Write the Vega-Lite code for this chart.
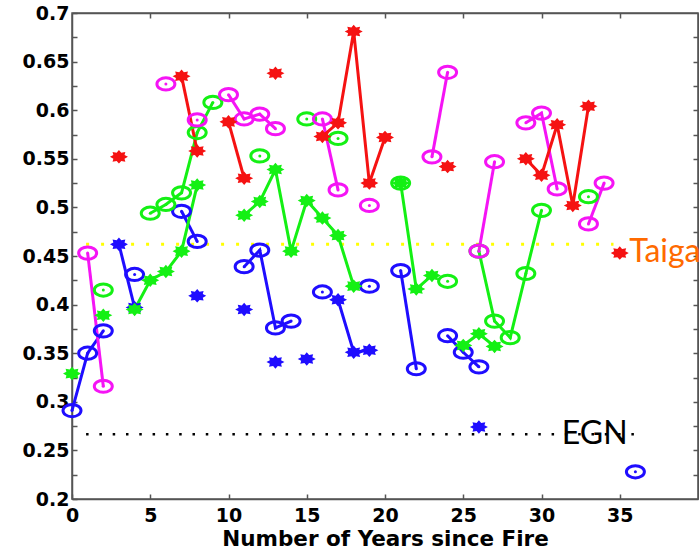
{
  "$schema": "https://vega.github.io/schema/vega-lite/v6.json",
  "width": 626,
  "height": 486,
  "autosize": {"type": "none"},
  "padding": {"left": 72, "top": 13, "right": 1, "bottom": 50},
  "background": "white",
  "config": {
    "view": {"stroke": "#555", "strokeWidth": 1.5},
    "axis": {
      "grid": false,
      "domainColor": "#555",
      "domainWidth": 1.5,
      "tickColor": "#555",
      "tickWidth": 1.5,
      "tickSize": -5,
      "labelFont": "DejaVu Sans",
      "labelFontWeight": "bold",
      "labelFontSize": 19,
      "labelColor": "#000",
      "labelOverlap": false,
      "labelFlush": false,
      "titleFont": "DejaVu Sans",
      "titleFontWeight": "bold",
      "titleFontSize": 21.5,
      "titleColor": "#000"
    }
  },
  "datasets": {
    "pts": [
      {"c": "b", "m": "o", "x": 0, "y": 0.291, "s": 1},
      {"c": "b", "m": "o", "x": 1, "y": 0.350, "s": 1},
      {"c": "b", "m": "o", "x": 2, "y": 0.373, "s": 1},
      {"c": "b", "m": "o", "x": 4, "y": 0.431, "s": 2},
      {"c": "b", "m": "o", "x": 7, "y": 0.496, "s": 3},
      {"c": "b", "m": "o", "x": 8, "y": 0.465, "s": 3},
      {"c": "b", "m": "o", "x": 11, "y": 0.439, "s": 4},
      {"c": "b", "m": "o", "x": 12, "y": 0.456, "s": 4},
      {"c": "b", "m": "o", "x": 13, "y": 0.376, "s": 4},
      {"c": "b", "m": "o", "x": 14, "y": 0.383, "s": 4},
      {"c": "b", "m": "o", "x": 16, "y": 0.413, "s": 5},
      {"c": "b", "m": "o", "x": 19, "y": 0.419, "s": 6},
      {"c": "b", "m": "o", "x": 21, "y": 0.435, "s": 7},
      {"c": "b", "m": "o", "x": 22, "y": 0.334, "s": 7},
      {"c": "b", "m": "o", "x": 24, "y": 0.368, "s": 8},
      {"c": "b", "m": "o", "x": 25, "y": 0.351, "s": 8},
      {"c": "b", "m": "o", "x": 26, "y": 0.336, "s": 8},
      {"c": "b", "m": "o", "x": 36, "y": 0.228, "s": 9},
      {"c": "b", "m": "*", "x": 3, "y": 0.462, "s": 1},
      {"c": "b", "m": "*", "x": 4, "y": 0.397, "s": 1},
      {"c": "b", "m": "*", "x": 8, "y": 0.409, "s": 2},
      {"c": "b", "m": "*", "x": 11, "y": 0.395, "s": 3},
      {"c": "b", "m": "*", "x": 13, "y": 0.341, "s": 4},
      {"c": "b", "m": "*", "x": 15, "y": 0.344, "s": 5},
      {"c": "b", "m": "*", "x": 17, "y": 0.405, "s": 6},
      {"c": "b", "m": "*", "x": 18, "y": 0.351, "s": 6},
      {"c": "b", "m": "*", "x": 19, "y": 0.353, "s": 6},
      {"c": "b", "m": "*", "x": 26, "y": 0.274, "s": 7},
      {"c": "g", "m": "o", "x": 2, "y": 0.415, "s": 1},
      {"c": "g", "m": "o", "x": 5, "y": 0.494, "s": 2},
      {"c": "g", "m": "o", "x": 6, "y": 0.503, "s": 2},
      {"c": "g", "m": "o", "x": 7, "y": 0.515, "s": 2},
      {"c": "g", "m": "o", "x": 8, "y": 0.577, "s": 2},
      {"c": "g", "m": "o", "x": 9, "y": 0.608, "s": 2},
      {"c": "g", "m": "o", "x": 12, "y": 0.553, "s": 3},
      {"c": "g", "m": "o", "x": 15, "y": 0.591, "s": 4},
      {"c": "g", "m": "o", "x": 17, "y": 0.571, "s": 5},
      {"c": "g", "m": "o", "x": 21, "y": 0.525, "s": 6},
      {"c": "g", "m": "o", "x": 24, "y": 0.424, "s": 7},
      {"c": "g", "m": "o", "x": 26, "y": 0.455, "s": 8},
      {"c": "g", "m": "o", "x": 27, "y": 0.383, "s": 8},
      {"c": "g", "m": "o", "x": 28, "y": 0.366, "s": 8},
      {"c": "g", "m": "o", "x": 29, "y": 0.432, "s": 8},
      {"c": "g", "m": "o", "x": 30, "y": 0.497, "s": 8},
      {"c": "g", "m": "o", "x": 33, "y": 0.511, "s": 9},
      {"c": "g", "m": "*", "x": 0, "y": 0.329, "s": 1},
      {"c": "g", "m": "*", "x": 2, "y": 0.389, "s": 2},
      {"c": "g", "m": "*", "x": 4, "y": 0.395, "s": 3},
      {"c": "g", "m": "*", "x": 5, "y": 0.425, "s": 3},
      {"c": "g", "m": "*", "x": 6, "y": 0.434, "s": 3},
      {"c": "g", "m": "*", "x": 7, "y": 0.455, "s": 3},
      {"c": "g", "m": "*", "x": 8, "y": 0.523, "s": 3},
      {"c": "g", "m": "*", "x": 11, "y": 0.492, "s": 4},
      {"c": "g", "m": "*", "x": 12, "y": 0.506, "s": 4},
      {"c": "g", "m": "*", "x": 13, "y": 0.539, "s": 4},
      {"c": "g", "m": "*", "x": 14, "y": 0.455, "s": 4},
      {"c": "g", "m": "*", "x": 15, "y": 0.507, "s": 4},
      {"c": "g", "m": "*", "x": 16, "y": 0.489, "s": 4},
      {"c": "g", "m": "*", "x": 17, "y": 0.471, "s": 4},
      {"c": "g", "m": "*", "x": 18, "y": 0.419, "s": 4},
      {"c": "g", "m": "*", "x": 21, "y": 0.525, "s": 5},
      {"c": "g", "m": "*", "x": 22, "y": 0.416, "s": 5},
      {"c": "g", "m": "*", "x": 23, "y": 0.430, "s": 5},
      {"c": "g", "m": "*", "x": 25, "y": 0.358, "s": 6},
      {"c": "g", "m": "*", "x": 26, "y": 0.370, "s": 6},
      {"c": "g", "m": "*", "x": 27, "y": 0.357, "s": 6},
      {"c": "m", "m": "o", "x": 1, "y": 0.453, "s": 1},
      {"c": "m", "m": "o", "x": 2, "y": 0.316, "s": 1},
      {"c": "m", "m": "o", "x": 6, "y": 0.627, "s": 2},
      {"c": "m", "m": "o", "x": 8, "y": 0.590, "s": 3},
      {"c": "m", "m": "o", "x": 10, "y": 0.616, "s": 4},
      {"c": "m", "m": "o", "x": 11, "y": 0.591, "s": 4},
      {"c": "m", "m": "o", "x": 12, "y": 0.596, "s": 4},
      {"c": "m", "m": "o", "x": 13, "y": 0.581, "s": 4},
      {"c": "m", "m": "o", "x": 16, "y": 0.591, "s": 5},
      {"c": "m", "m": "o", "x": 17, "y": 0.518, "s": 5},
      {"c": "m", "m": "o", "x": 19, "y": 0.502, "s": 6},
      {"c": "m", "m": "o", "x": 23, "y": 0.552, "s": 7},
      {"c": "m", "m": "o", "x": 24, "y": 0.639, "s": 7},
      {"c": "m", "m": "o", "x": 26, "y": 0.455, "s": 8},
      {"c": "m", "m": "o", "x": 27, "y": 0.547, "s": 8},
      {"c": "m", "m": "o", "x": 29, "y": 0.587, "s": 9},
      {"c": "m", "m": "o", "x": 30, "y": 0.597, "s": 9},
      {"c": "m", "m": "o", "x": 31, "y": 0.519, "s": 9},
      {"c": "m", "m": "o", "x": 33, "y": 0.483, "s": 10},
      {"c": "m", "m": "o", "x": 34, "y": 0.525, "s": 10},
      {"c": "r", "m": "*", "x": 3, "y": 0.552, "s": 1},
      {"c": "r", "m": "*", "x": 7, "y": 0.635, "s": 2},
      {"c": "r", "m": "*", "x": 8, "y": 0.558, "s": 2},
      {"c": "r", "m": "*", "x": 10, "y": 0.588, "s": 3},
      {"c": "r", "m": "*", "x": 11, "y": 0.530, "s": 3},
      {"c": "r", "m": "*", "x": 13, "y": 0.638, "s": 4},
      {"c": "r", "m": "*", "x": 16, "y": 0.573, "s": 5},
      {"c": "r", "m": "*", "x": 17, "y": 0.587, "s": 5},
      {"c": "r", "m": "*", "x": 18, "y": 0.681, "s": 5},
      {"c": "r", "m": "*", "x": 19, "y": 0.525, "s": 5},
      {"c": "r", "m": "*", "x": 20, "y": 0.572, "s": 5},
      {"c": "r", "m": "*", "x": 24, "y": 0.542, "s": 6},
      {"c": "r", "m": "*", "x": 29, "y": 0.550, "s": 7},
      {"c": "r", "m": "*", "x": 30, "y": 0.533, "s": 7},
      {"c": "r", "m": "*", "x": 31, "y": 0.585, "s": 7},
      {"c": "r", "m": "*", "x": 32, "y": 0.502, "s": 7},
      {"c": "r", "m": "*", "x": 33, "y": 0.604, "s": 7},
      {"c": "r", "m": "*", "x": 35, "y": 0.453, "s": 8}
    ],
    "refs": [
      {"n": "Taiga", "y": 0.462, "x0": 0.9, "x1": 34.6},
      {"n": "EGN", "y": 0.2667, "x0": 0.9, "x1": 36.2}
    ],
    "notes": [
      {"t": "Taiga", "x": 35.6, "y": 0.4435},
      {"t": "EGN", "x": 31.3, "y": 0.2567}
    ]
  },
  "layer": [
    {
      "data": {"name": "refs"},
      "transform": [{"filter": "datum.n == 'Taiga'"}],
      "mark": {"type": "rule", "color": "#ffff00", "strokeWidth": 3, "strokeDash": [3, 12]},
      "encoding": {
        "x": {"field": "x0", "type": "quantitative", "scale": {"domain": [0, 40], "nice": false, "zero": false}, "axis": null},
        "x2": {"field": "x1"},
        "y": {"field": "y", "type": "quantitative", "scale": {"domain": [0.2, 0.7], "nice": false, "zero": false}, "axis": null}
      }
    },
    {
      "data": {"name": "refs"},
      "transform": [{"filter": "datum.n == 'EGN'"}],
      "mark": {"type": "rule", "color": "#000000", "strokeWidth": 2.5, "strokeDash": [2.5, 10.8]},
      "encoding": {
        "x": {"field": "x0", "type": "quantitative", "scale": {"domain": [0, 40], "nice": false, "zero": false}, "axis": null},
        "x2": {"field": "x1"},
        "y": {"field": "y", "type": "quantitative", "scale": {"domain": [0.2, 0.7], "nice": false, "zero": false}, "axis": null}
      }
    },
    {
      "data": {"name": "pts"},
      "mark": {"type": "line", "strokeWidth": 3},
      "encoding": {
        "x": {"field": "x", "type": "quantitative", "scale": {"domain": [0, 40], "nice": false, "zero": false},
          "axis": {"orient": "bottom", "values": [0, 5, 10, 15, 20, 25, 30, 35], "title": "Number of Years since Fire", "labelPadding": 12, "titlePadding": 3, "format": "d"}},
        "y": {"field": "y", "type": "quantitative", "scale": {"domain": [0.2, 0.7], "nice": false, "zero": false},
          "axis": {"orient": "left", "title": null, "labelPadding": 8,
            "values": [0.2, 0.225, 0.25, 0.275, 0.3, 0.325, 0.35, 0.375, 0.4, 0.425, 0.45, 0.475, 0.5, 0.525, 0.55, 0.575, 0.6, 0.625, 0.65, 0.675, 0.7],
            "labelExpr": "abs(datum.value*20 - round(datum.value*20)) < 0.01 ? format(datum.value, '.2~f') : ''"}},
        "color": {"field": "c", "type": "nominal", "scale": {"domain": ["b", "g", "m", "r"], "range": ["#1f0dff", "#14f014", "#f514f5", "#f51212"]}, "legend": null},
        "detail": [{"field": "m"}, {"field": "s"}],
        "order": {"field": "x", "type": "quantitative"}
      }
    },
    {
      "data": {"name": "pts"},
      "transform": [{"filter": "datum.m == 'o'"}],
      "mark": {"type": "point", "shape": "M-1,0A1,0.68,0,1,1,1,0A1,0.68,0,1,1,-1,0Z", "filled": false, "strokeWidth": 3, "size": 324, "opacity": 1},
      "encoding": {
        "x": {"field": "x", "type": "quantitative", "scale": {"domain": [0, 40], "nice": false, "zero": false},
          "axis": {"orient": "top", "labels": false, "title": null, "values": [5, 10, 15, 20, 25, 30, 35]}},
        "y": {"field": "y", "type": "quantitative", "scale": {"domain": [0.2, 0.7], "nice": false, "zero": false},
          "axis": {"orient": "right", "labels": false, "title": null,
            "values": [0.225, 0.25, 0.275, 0.3, 0.325, 0.35, 0.375, 0.4, 0.425, 0.45, 0.475, 0.5, 0.525, 0.55, 0.575, 0.6, 0.625, 0.65, 0.675]}},
        "color": {"field": "c", "type": "nominal", "legend": null}
      }
    },
    {
      "data": {"name": "pts"},
      "transform": [{"filter": "datum.m == 'o'"}],
      "mark": {"type": "point", "shape": "circle", "filled": true, "size": 9, "opacity": 1},
      "encoding": {
        "x": {"field": "x", "type": "quantitative", "scale": {"domain": [0, 40], "nice": false, "zero": false}, "axis": null},
        "y": {"field": "y", "type": "quantitative", "scale": {"domain": [0.2, 0.7], "nice": false, "zero": false}, "axis": null},
        "color": {"field": "c", "type": "nominal", "legend": null}
      }
    },
    {
      "data": {"name": "pts"},
      "transform": [{"filter": "datum.m == '*'"}],
      "mark": {"type": "point", "shape": "M1,0L0.62,0.2L0.71,0.53L0.26,0.45L0,0.75L-0.26,0.45L-0.71,0.53L-0.62,0.2L-1,0L-0.62,-0.2L-0.71,-0.53L-0.26,-0.45L0,-0.75L0.26,-0.45L0.71,-0.53L0.62,-0.2Z", "filled": true, "size": 324, "opacity": 1, "strokeWidth": 0},
      "encoding": {
        "x": {"field": "x", "type": "quantitative", "scale": {"domain": [0, 40], "nice": false, "zero": false}, "axis": null},
        "y": {"field": "y", "type": "quantitative", "scale": {"domain": [0.2, 0.7], "nice": false, "zero": false}, "axis": null},
        "color": {"field": "c", "type": "nominal", "legend": null}
      }
    },
    {
      "data": {"name": "notes"},
      "transform": [{"filter": "datum.t == 'Taiga'"}],
      "mark": {"type": "text", "align": "left", "baseline": "alphabetic", "font": "Lato", "fontSize": 32, "color": "#ff6a00"},
      "encoding": {
        "x": {"field": "x", "type": "quantitative", "scale": {"domain": [0, 40], "nice": false, "zero": false}, "axis": null},
        "y": {"field": "y", "type": "quantitative", "scale": {"domain": [0.2, 0.7], "nice": false, "zero": false}, "axis": null},
        "text": {"field": "t"}
      }
    },
    {
      "data": {"name": "notes"},
      "transform": [{"filter": "datum.t == 'EGN'"}],
      "mark": {"type": "text", "align": "left", "baseline": "alphabetic", "font": "Lato", "fontSize": 32, "color": "#000000"},
      "encoding": {
        "x": {"field": "x", "type": "quantitative", "scale": {"domain": [0, 40], "nice": false, "zero": false}, "axis": null},
        "y": {"field": "y", "type": "quantitative", "scale": {"domain": [0.2, 0.7], "nice": false, "zero": false}, "axis": null},
        "text": {"field": "t"}
      }
    }
  ],
  "resolve": {"axis": {"x": "independent", "y": "independent"}}
}
